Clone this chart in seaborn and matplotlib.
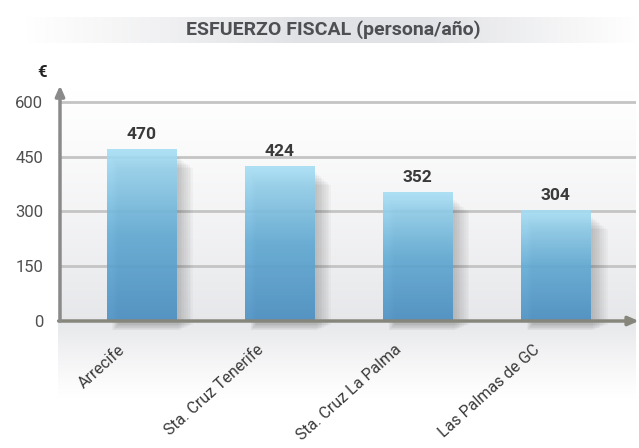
import numpy as np
import pandas as pd
import matplotlib
matplotlib.use("Agg")
import matplotlib.pyplot as plt
from matplotlib.patches import Rectangle
from matplotlib.colors import LinearSegmentedColormap
import seaborn as sns

# Data
municipios = ["Arrecife", "Sta. Cruz Tenerife", "Sta. Cruz La Palma", "Las Palmas de GC"]
esfuerzo = [470, 424, 352, 304]
yticks = [0, 150, 300, 450, 600]

df = pd.DataFrame({"municipio": municipios, "esfuerzo": esfuerzo})

sns.set_theme(style="white")
plt.rcParams["font.family"] = ["Roboto", "DejaVu Sans"]

W, H = 639, 448
fig = plt.figure(figsize=(W / 100, H / 100), dpi=100)
fig.patch.set_facecolor("white")

# Figure-level background: soft grey haze around the plot floor
bg = fig.add_axes([0, 0, 1, 1], zorder=-5)
bg.set_xlim(0, W)
bg.set_ylim(H, 0)
bg.axis("off")
ypix = np.linspace(88, H, 400)
shade = np.where(ypix < 321, (ypix - 88) / (321 - 88),
                 1 - (ypix - 321) / (400 - 321))
shade = np.clip(shade, 0, 1)
floor = np.ones((400, 1, 4))
floor[:, 0, 0] = 0.9
floor[:, 0, 1] = 0.905
floor[:, 0, 2] = 0.915
floor[:, 0, 3] = shade ** 1.2 * 0.95
bg.imshow(floor, extent=[58, 636, H, 88], aspect="auto", interpolation="bilinear")

# Title band with horizontal grey gradient
xx = np.linspace(0, 1, 400)
band_a = np.clip(np.minimum(xx / 0.45, (1 - xx) / 0.35), 0, 1)
band = np.ones((1, 400, 4))
band[0, :, 0] = 0.885
band[0, :, 1] = 0.89
band[0, :, 2] = 0.9
band[0, :, 3] = band_a
bg.imshow(band, extent=[25, 639, 43, 17], aspect="auto", interpolation="bilinear")
bg.text(333, 30, "ESFUERZO FISCAL (persona/año)", ha="center", va="center",
        fontsize=14, fontweight="bold", color="#4d4f53")

# Main axes
ax = fig.add_axes([60 / W, 127 / H, (636 - 60) / W, (321 - 88) / H])
ax.patch.set_alpha(0)
sns.barplot(data=df, x="municipio", y="esfuerzo", ax=ax, width=0.5,
            color="#5aa6d3", saturation=1, zorder=3)
ax.set_xlim(-0.59, 3.58)
ax.set_ylim(0, 638)
ax.set_yticks(yticks)
ax.set_yticklabels([str(v) for v in yticks], fontsize=12, color="#4f4f4f")
ax.tick_params(axis="y", length=0, pad=12)
ax.set_xlabel("")
ax.set_ylabel("")
ax.set_xticks(range(len(municipios)))
ax.set_xticklabels([])
ax.tick_params(axis="x", length=0)

for v in yticks[1:]:
    ax.axhline(v, color="#c4c4c4", lw=2, zorder=1)

for s in ax.spines.values():
    s.set_visible(False)

# Gradient fill and soft shadow for each bar
cmap = LinearSegmentedColormap.from_list("barra", ["#4a90c4", "#62acd6", "#a6def4"])
grad = np.linspace(0, 1, 256)[:, None]
for p, val in zip(ax.patches, esfuerzo):
    x0, w, h = p.get_x(), p.get_width(), p.get_height()
    for k in range(9):
        ax.add_patch(Rectangle((x0 + 0.04 + k * 0.005, -26 + k * 2), w - 0.02 + k * 0.008,
                               h + 6 - k * 6, facecolor="#444444", edgecolor="none",
                               alpha=0.035, zorder=2, clip_on=False))
    p.set_facecolor("none")
    p.set_edgecolor("none")
    im = ax.imshow(grad, cmap=cmap, extent=[x0, x0 + w, 0, h], origin="lower",
                   aspect="auto", alpha=0.9, zorder=3)
    im.set_clip_path(p)
    ax.text(x0 + w / 2, h + 20, str(val), ha="center", va="bottom",
            fontsize=12.5, fontweight="bold", color="#3a3a3a", zorder=5)

# Category labels, rotated
for i, name in enumerate(municipios):
    ax.text(i - 0.17, -58, name, rotation=42, rotation_mode="anchor",
            ha="right", va="top", fontsize=11.5, color="#3a3a3a")

# Axes with arrow heads
ax.annotate("", xy=(3.6, 0), xytext=(-0.6, 0),
            arrowprops=dict(arrowstyle="-|>,head_length=0.5,head_width=0.22",
                            color="#86867c", lw=2.5, shrinkA=0, shrinkB=0),
            annotation_clip=False, zorder=6)
ax.annotate("", xy=(-0.59, 645), xytext=(-0.59, 0),
            arrowprops=dict(arrowstyle="-|>,head_length=0.5,head_width=0.22",
                            color="#8a8a8a", lw=2.5, shrinkA=0, shrinkB=0),
            annotation_clip=False, zorder=6)
ax.text(-0.72, 660, "€", ha="center", va="bottom", fontsize=12,
        fontweight="bold", color="#222222")

fig.savefig("out.png", dpi=100)
